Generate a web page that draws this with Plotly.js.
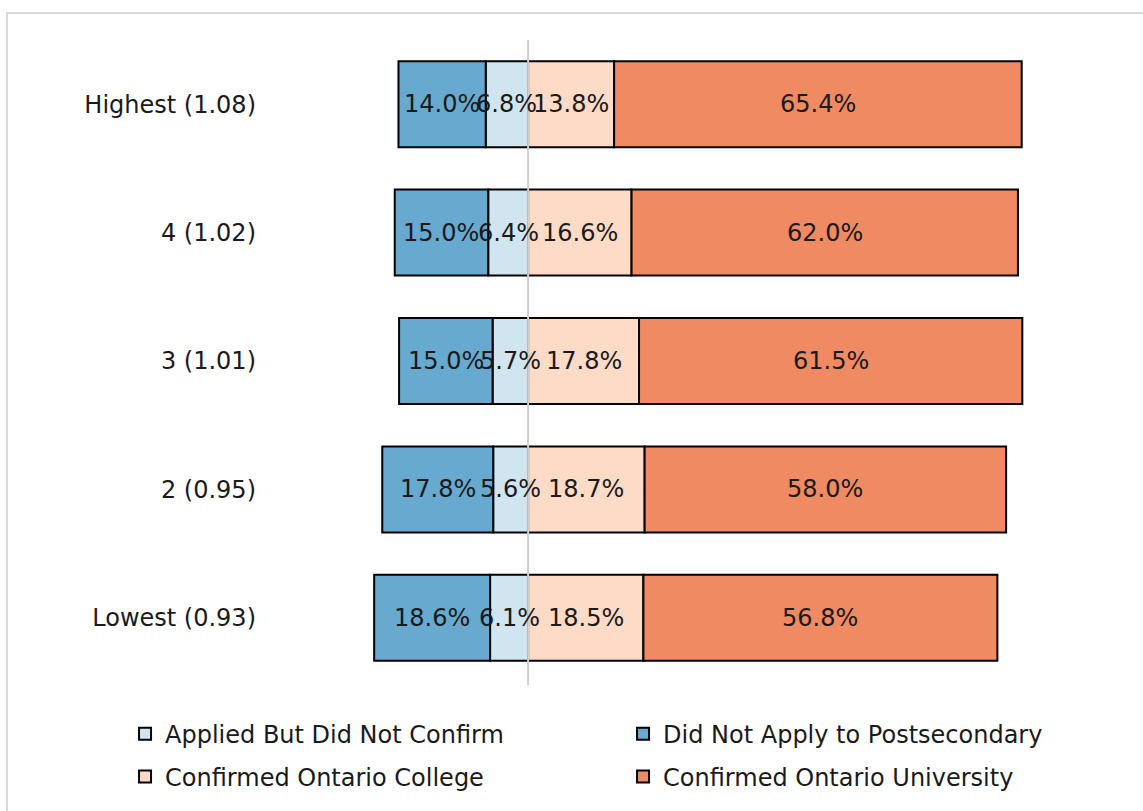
<!DOCTYPE html>
<html>
<head>
<meta charset="utf-8">
<script src="https://cdn.plot.ly/plotly-3.0.1.min.js"></script>
<style>
  html, body { margin: 0; padding: 0; background: #ffffff; }
  #wrap { position: relative; width: 1143px; height: 811px; overflow: hidden; }
  #frame { position: absolute; left: 6px; top: 12px; width: 1200px; height: 900px; border: 2px solid #d9d9d9; box-sizing: border-box; }
  #chart { position: absolute; left: 0; top: 0; width: 1143px; height: 811px; }
</style>
</head>
<body>
<div id="wrap">
  <div id="frame"></div>
  <div id="chart"></div>
</div>
<script>
// ---- data ----
const categories = ["Highest (1.08)", "4 (1.02)", "3 (1.01)", "2 (0.95)", "Lowest (0.93)"];
const appliedNotConfirm = [6.8, 6.4, 5.7, 5.6, 6.1];
const didNotApply = [14.0, 15.0, 15.0, 17.8, 18.6];
const confirmedCollege = [13.8, 16.6, 17.8, 18.7, 18.5];
const confirmedUniversity = [65.4, 62.0, 61.5, 58.0, 56.8];

const FONT = "DejaVu Sans, Verdana, sans-serif";
const FS = 24;
const TXT = "#1a1a1a";
const line = { color: "#000000", width: 2 };

function neg(arr) { return arr.map(v => -v); }

const traces = [
  { name: "Applied But Did Not Confirm", x: neg(appliedNotConfirm), y: categories, marker: { color: "#d1e5f0", line: line }, legend: "legend" },
  { name: "Did Not Apply to Postsecondary", x: neg(didNotApply), y: categories, marker: { color: "#67a9cf", line: line }, legend: "legend2" },
  { name: "Confirmed Ontario College", x: confirmedCollege, y: categories, marker: { color: "#fddbc7", line: line }, legend: "legend3" },
  { name: "Confirmed Ontario University", x: confirmedUniversity, y: categories, marker: { color: "#ef8a62", line: line }, legend: "legend4" }
].map(t => Object.assign({ type: "bar", orientation: "h", width: 0.67, hoverinfo: "skip" }, t));

// labels centred in each segment
const annotations = [];
function addLabels(values, centerFn) {
  values.forEach((v, i) => {
    annotations.push({
      x: centerFn(i), y: categories[i], xref: "x", yref: "y",
      text: v.toFixed(1) + "%", showarrow: false,
      font: { family: FONT, size: FS, color: TXT }
    });
  });
}
addLabels(appliedNotConfirm, i => -appliedNotConfirm[i] / 2);
addLabels(didNotApply, i => -(appliedNotConfirm[i] + didNotApply[i] / 2));
addLabels(confirmedCollege, i => confirmedCollege[i] / 2);
addLabels(confirmedUniversity, i => confirmedCollege[i] + confirmedUniversity[i] / 2);

function legendAt(x, y) {
  return {
    orientation: "h", xref: "container", yref: "container", xanchor: "left", yanchor: "middle",
    x: x, y: y,
    font: { family: FONT, size: FS, color: TXT },
    bgcolor: "rgba(0,0,0,0)", itemclick: false
  };
}

const layout = {
  width: 1143, height: 811,
  margin: { l: 257, r: 54, t: 40, b: 129 },
  paper_bgcolor: "rgba(0,0,0,0)", plot_bgcolor: "rgba(0,0,0,0)",
  barmode: "relative", bargap: 0.33,
  font: { family: FONT, size: FS, color: TXT },
  xaxis: { range: [-43.5, 90], showgrid: false, zeroline: false, showticklabels: false, ticks: "", showline: false, fixedrange: true },
  yaxis: { type: "category", autorange: "reversed", showgrid: false, zeroline: false, ticks: "", showline: false,
           tickfont: { family: FONT, size: FS, color: TXT }, fixedrange: true },
  showlegend: true,
  legend: legendAt(0.1094, 0.0949),
  legend2: legendAt(0.5451, 0.0949),
  legend3: legendAt(0.1094, 0.0419),
  legend4: legendAt(0.5451, 0.0419),
  annotations: annotations,
  shapes: [
    { type: "line", xref: "x", yref: "paper", x0: 0, x1: 0, y0: -0.005, y1: 1, layer: "above",
      line: { color: "#cfcfcf", width: 2 } }
  ]
};

Plotly.newPlot("chart", traces, layout, { displayModeBar: false, staticPlot: true });
</script>
</body>
</html>
